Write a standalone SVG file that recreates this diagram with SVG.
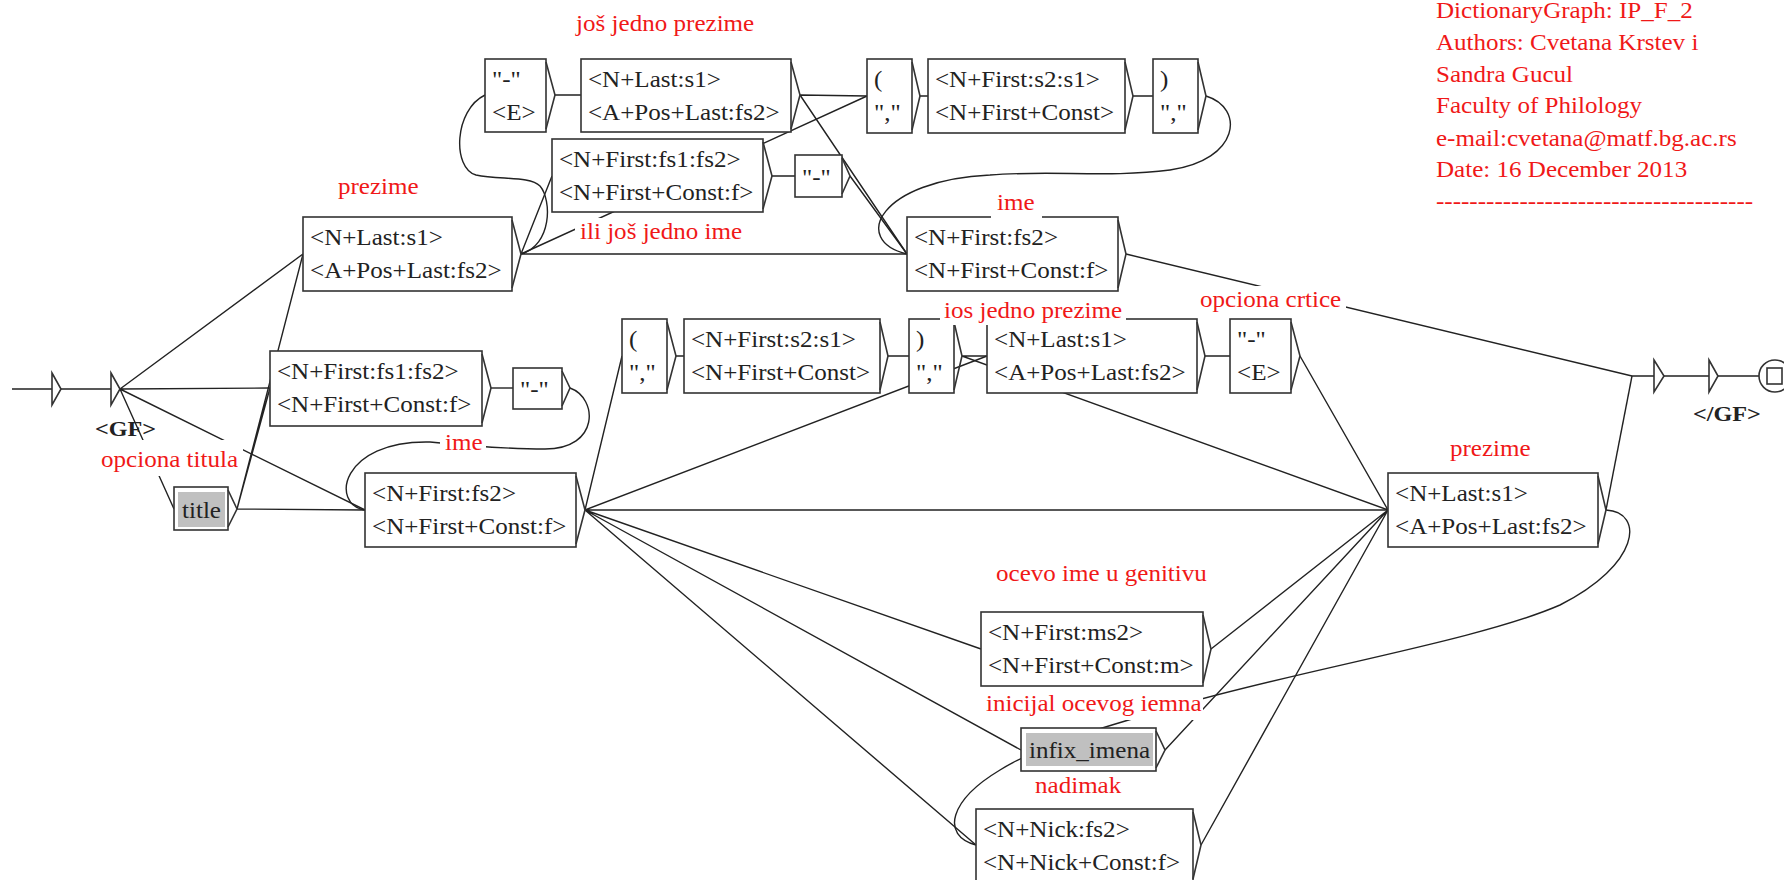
<svg xmlns="http://www.w3.org/2000/svg" width="1784" height="880" viewBox="0 0 1784 880">
<style>
.bx{fill:#fff;stroke:#333;stroke-width:1.6}
.ch{fill:none;stroke:#333;stroke-width:1.6}
.g{fill:#c0c0c0}
.t{font-family:"Liberation Serif",serif;font-size:23px;fill:#222;transform-box:fill-box;transform-origin:0 0;transform:scaleX(1.09)}
.b{font-family:"Liberation Serif",serif;font-size:22px;font-weight:bold;fill:#222;transform-box:fill-box;transform-origin:0 0;transform:scaleX(1.1)}
.c{font-family:"Liberation Serif",serif;font-size:23px;fill:#f01818;transform-box:fill-box;transform-origin:0 0;transform:scaleX(1.09)}
.e{fill:none;stroke:#222;stroke-width:1.4}
.bg{fill:#fff}
</style>
<g id="edges">
<path class="e" d="M12,389H52M61,389H111"/>
<path class="e" d="M120,389L303,254M120,389L270,388M120,389L174,509M120,389L365,510"/>
<path class="e" d="M237,509L365,510M237,509L270,388M237,509L303,254"/>
<path class="e" d="M521,254C552,245 552,200 540,186C530,176 500,180 476,175C452,168 454,110 485,95"/>
<path class="e" d="M521,254L552,176M521,254L867,96M521,254L907,254"/>
<path class="e" d="M555,95H581M800,95L867,96M800,95L907,254M920,96H928M1133,96H1153"/>
<path class="e" d="M1206,96C1245,108 1240,160 1170,170C1110,178 1050,170 990,175C880,180 850,240 907,254"/>
<path class="e" d="M772,176H795M850,176L907,254"/>
<path class="e" d="M1126,254L1632,376"/>
<path class="e" d="M491,388H513"/>
<path class="e" d="M570,388C598,398 600,449 545,449C510,449 470,446 430,442C340,440 330,505 365,510"/>
<path class="e" d="M585,510L622,356M585,510L987,356M585,510L1388,510M585,510L981,649M585,510L1021,750M585,510L976,845"/>
<path class="e" d="M676,356H684M888,356H909M962,356H987M962,356L1388,510M1205,356H1230M1300,356L1388,510"/>
<path class="e" d="M1211,649L1388,510M1165,750L1388,510M1201,845L1388,510"/>
<path class="e" d="M1606,510L1632,376"/>
<path class="e" d="M1606,510C1645,512 1640,565 1560,605C1480,640 1300,670 1180,705C1100,728 1040,745 1000,770C950,800 940,835 976,845"/>
<path class="e" d="M1632,376H1654M1664,376H1709M1718,376H1759"/>
</g>
<g id="n_init"><path class="ch" d="M52,373L61,389L52,405Z" fill="#fff"/></g>
<g id="n_gf"><path class="ch" d="M111,373L120,389L111,405Z" fill="#fff"/><text class="b" x="95" y="436">&lt;GF&gt;</text></g>
<g id="n_A"><rect class="bx" x="485" y="59" width="61" height="73"/><path class="ch" d="M546,62L555,95L546,129"/><text class="t" x="492" y="87">"-"</text><text class="t" x="492" y="120">&lt;E&gt;</text></g>
<g id="n_B"><rect class="bx" x="581" y="59" width="210" height="73"/><path class="ch" d="M791,62L800,95L791,129"/><text class="t" x="588" y="87">&lt;N+Last:s1&gt;</text><text class="t" x="588" y="120">&lt;A+Pos+Last:fs2&gt;</text></g>
<g id="n_F"><rect class="bx" x="867" y="59" width="45" height="74"/><path class="ch" d="M912,62L920,96L912,130"/><text class="t" x="874" y="87">(</text><text class="t" x="874" y="120">","</text></g>
<g id="n_G"><rect class="bx" x="928" y="59" width="197" height="74"/><path class="ch" d="M1125,62L1133,96L1125,130"/><text class="t" x="935" y="87">&lt;N+First:s2:s1&gt;</text><text class="t" x="935" y="120">&lt;N+First+Const&gt;</text></g>
<g id="n_H"><rect class="bx" x="1153" y="59" width="45" height="74"/><path class="ch" d="M1198,62L1206,96L1198,130"/><text class="t" x="1160" y="87">)</text><text class="t" x="1160" y="120">","</text></g>
<g id="n_C"><rect class="bx" x="552" y="139" width="211" height="73"/><path class="ch" d="M763,142L772,176L763,209"/><text class="t" x="559" y="167">&lt;N+First:fs1:fs2&gt;</text><text class="t" x="559" y="200">&lt;N+First+Const:f&gt;</text></g>
<g id="n_D"><rect class="bx" x="795" y="155" width="47" height="42"/><path class="ch" d="M842,158L850,176L842,194"/><text class="t" x="802" y="185">"-"</text></g>
<g id="n_E"><rect class="bx" x="303" y="217" width="209" height="74"/><path class="ch" d="M512,220L521,254L512,288"/><text class="t" x="310" y="245">&lt;N+Last:s1&gt;</text><text class="t" x="310" y="278">&lt;A+Pos+Last:fs2&gt;</text></g>
<g id="n_I"><rect class="bx" x="907" y="217" width="211" height="74"/><path class="ch" d="M1118,220L1126,254L1118,288"/><text class="t" x="914" y="245">&lt;N+First:fs2&gt;</text><text class="t" x="914" y="278">&lt;N+First+Const:f&gt;</text></g>
<g id="n_K"><rect class="bx" x="270" y="351" width="212" height="75"/><path class="ch" d="M482,354L491,388L482,423"/><text class="t" x="277" y="379">&lt;N+First:fs1:fs2&gt;</text><text class="t" x="277" y="412">&lt;N+First+Const:f&gt;</text></g>
<g id="n_M"><rect class="bx" x="513" y="368" width="49" height="41"/><path class="ch" d="M562,371L570,388L562,406"/><text class="t" x="520" y="397">"-"</text></g>
<g id="n_title"><rect class="bx" x="174" y="487" width="54" height="43"/><rect class="g" x="178" y="492" width="47" height="35"/><path class="ch" d="M228,490L237,509L228,527"/><text class="t" x="182" y="518">title</text></g>
<g id="n_L"><rect class="bx" x="365" y="473" width="211" height="74"/><path class="ch" d="M576,476L585,510L576,544"/><text class="t" x="372" y="501">&lt;N+First:fs2&gt;</text><text class="t" x="372" y="534">&lt;N+First+Const:f&gt;</text></g>
<g id="n_F2"><rect class="bx" x="622" y="319" width="45" height="74"/><path class="ch" d="M667,322L676,356L667,390"/><text class="t" x="629" y="347">(</text><text class="t" x="629" y="380">","</text></g>
<g id="n_G2"><rect class="bx" x="684" y="319" width="196" height="74"/><path class="ch" d="M880,322L888,356L880,390"/><text class="t" x="691" y="347">&lt;N+First:s2:s1&gt;</text><text class="t" x="691" y="380">&lt;N+First+Const&gt;</text></g>
<g id="n_H2"><rect class="bx" x="909" y="319" width="45" height="74"/><path class="ch" d="M954,322L962,356L954,390"/><text class="t" x="916" y="347">)</text><text class="t" x="916" y="380">","</text></g>
<g id="n_N"><rect class="bx" x="987" y="319" width="210" height="74"/><path class="ch" d="M1197,322L1205,356L1197,390"/><text class="t" x="994" y="347">&lt;N+Last:s1&gt;</text><text class="t" x="994" y="380">&lt;A+Pos+Last:fs2&gt;</text></g>
<g id="n_O"><rect class="bx" x="1230" y="319" width="61" height="74"/><path class="ch" d="M1291,322L1300,356L1291,390"/><text class="t" x="1237" y="347">"-"</text><text class="t" x="1237" y="380">&lt;E&gt;</text></g>
<g id="n_P"><rect class="bx" x="1388" y="473" width="210" height="74"/><path class="ch" d="M1598,476L1606,510L1598,544"/><text class="t" x="1395" y="501">&lt;N+Last:s1&gt;</text><text class="t" x="1395" y="534">&lt;A+Pos+Last:fs2&gt;</text></g>
<g id="n_Q"><rect class="bx" x="981" y="612" width="222" height="74"/><path class="ch" d="M1203,615L1211,649L1203,683"/><text class="t" x="988" y="640">&lt;N+First:ms2&gt;</text><text class="t" x="988" y="673">&lt;N+First+Const:m&gt;</text></g>
<g id="n_R"><rect class="bx" x="1021" y="728" width="135" height="43"/><rect class="g" x="1026" y="733" width="127" height="33"/><path class="ch" d="M1156,731L1165,750L1156,768"/><text class="t" x="1029" y="758">infix_imena</text></g>
<g id="n_S"><rect class="bx" x="976" y="809" width="217" height="74"/><path class="ch" d="M1193,812L1201,845L1193,879"/><text class="t" x="983" y="837">&lt;N+Nick:fs2&gt;</text><text class="t" x="983" y="870">&lt;N+Nick+Const:f&gt;</text></g>
<g id="n_end1"><path class="ch" d="M1654,360L1664,376L1654,392Z" fill="#fff"/></g>
<g id="n_end2"><path class="ch" d="M1709,360L1718,376L1709,392Z" fill="#fff"/><text class="b" x="1693" y="421">&lt;/GF&gt;</text></g>
<g id="n_final"><circle cx="1775" cy="376" r="16" fill="#fff" stroke="#333" stroke-width="1.6"/><rect x="1767" y="368" width="15" height="16" fill="none" stroke="#333" stroke-width="1.6"/></g>
<g id="comments">
<text class="c" x="576" y="31">još jedno prezime</text>
<rect class="bg" x="334" y="172" width="86" height="30"/><text class="c" x="338" y="194">prezime</text>
<rect class="bg" x="575" y="218" width="165" height="30"/><text class="c" x="580" y="239">ili još jedno ime</text>
<rect class="bg" x="991" y="190" width="51" height="30"/><text class="c" x="997" y="210">ime</text>
<rect class="bg" x="440" y="430" width="46" height="28"/><text class="c" x="445" y="450">ime</text>
<rect class="bg" x="98" y="440" width="145" height="36"/><text class="c" x="101" y="467">opciona titula</text>
<rect class="bg" x="940" y="296" width="186" height="29"/><text class="c" x="944" y="318">ios jedno prezime</text>
<rect class="bg" x="1195" y="286" width="151" height="30"/><text class="c" x="1200" y="307">opciona crtice</text>
<text class="c" x="1450" y="456">prezime</text>
<text class="c" x="996" y="581">ocevo ime u genitivu</text>
<rect class="bg" x="981" y="689" width="222" height="31"/><text class="c" x="986" y="711">inicijal ocevog iemna</text>
<rect class="bg" x="1030" y="772" width="95" height="28"/><text class="c" x="1035" y="793">nadimak</text>
<text class="c" x="1436" y="18">DictionaryGraph: IP_F_2</text>
<text class="c" x="1436" y="50">Authors: Cvetana Krstev i</text>
<text class="c" x="1436" y="82">Sandra Gucul</text>
<text class="c" x="1436" y="113">Faculty of Philology</text>
<text class="c" x="1436" y="146">e-mail:cvetana@matf.bg.ac.rs</text>
<text class="c" x="1436" y="177">Date: 16 December 2013</text>
<text class="c" x="1436" y="209">--------------------------------------</text>
</g>
</svg>
